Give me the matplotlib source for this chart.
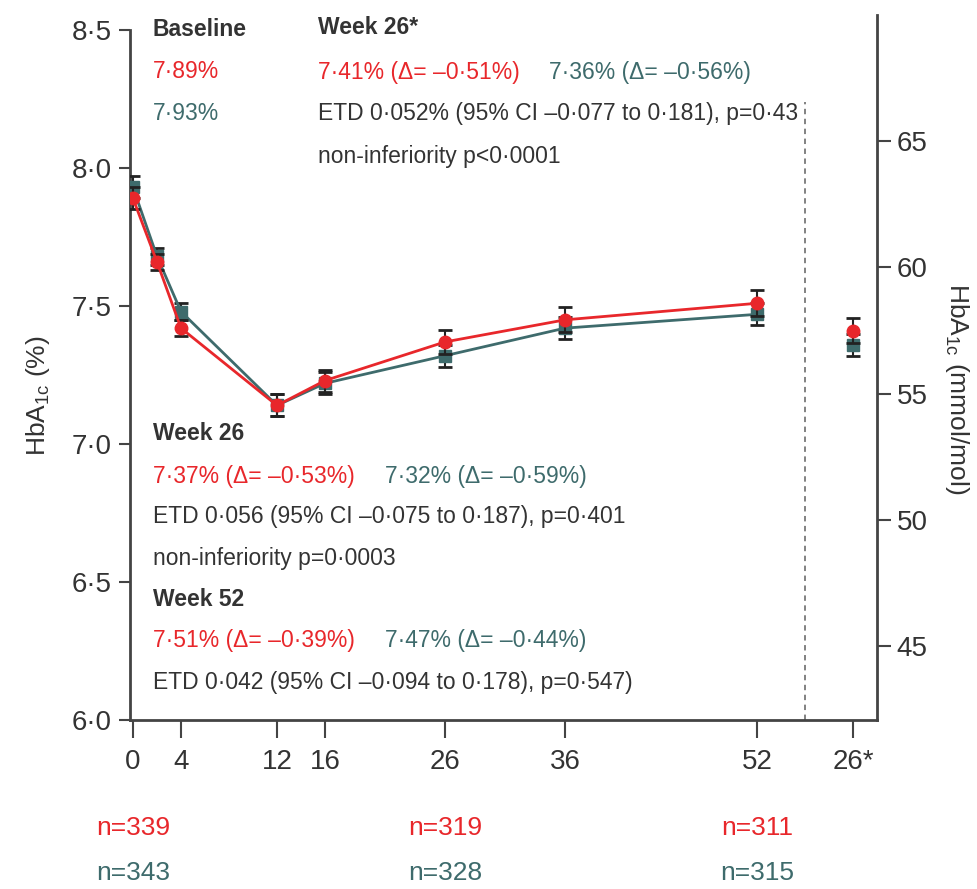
import numpy as np
import matplotlib
matplotlib.use("Agg")
import matplotlib.pyplot as plt

plt.rcParams['font.family'] = ['Liberation Sans Narrow', 'Liberation Sans', 'DejaVu Sans']
plt.rcParams['mathtext.fontset'] = 'custom'
plt.rcParams['mathtext.rm'] = 'Liberation Sans'

# data
weeks = [0, 2, 4, 12, 16, 26, 36, 52]
red_hba1c = [7.89, 7.66, 7.42, 7.14, 7.23, 7.37, 7.45, 7.51]
red_err = [0.04, 0.03, 0.03, 0.04, 0.04, 0.045, 0.045, 0.047]
teal_hba1c = [7.93, 7.68, 7.48, 7.14, 7.22, 7.32, 7.42, 7.47]
teal_err = [0.04, 0.03, 0.03, 0.04, 0.04, 0.04, 0.04, 0.04]
extra_x = 60
red_extra, red_extra_err = 7.41, 0.045
teal_extra, teal_extra_err = 7.36, 0.04

xticks = [0, 4, 12, 16, 26, 36, 52, 60]
xticklabels = ['0', '4', '12', '16', '26', '36', '52', '26*']
yticks = [6.0, 6.5, 7.0, 7.5, 8.0, 8.5]
yticklabels = ['6·0', '6·5', '7·0', '7·5', '8·0', '8·5']
mmol_ticks = [45, 50, 55, 60, 65]
n_weeks = [0, 26, 52]
n_red = ['n=339', 'n=319', 'n=311']
n_teal = ['n=343', 'n=328', 'n=315']

RED = '#e8272b'
TEAL = '#3e6b6c'
DARK = '#333333'
AX = '#444444'

def to_mmol(v):
    return 10.929 * (v - 2.15)

fig = plt.figure(figsize=(9.78, 8.89), dpi=100)
ax = fig.add_axes([0.1329, 0.19, 0.7638, 0.793])
ax.set_xlim(-0.25, 62)
ax.set_ylim(6.0, 8.554)

eb = dict(ecolor='#222222', elinewidth=1.5, capsize=5, capthick=2, ms=9)
ax.errorbar(weeks, teal_hba1c, yerr=teal_err, color=TEAL, lw=2, marker='s', zorder=3, **eb)
ax.errorbar(weeks, red_hba1c, yerr=red_err, color=RED, lw=2, marker='o', zorder=4, **eb)
ax.errorbar([extra_x], [teal_extra], yerr=[teal_extra_err], color=TEAL, marker='s', zorder=3, **eb)
ax.errorbar([extra_x], [red_extra], yerr=[red_extra_err], color=RED, marker='o', zorder=4, **eb)

ax.plot([56, 56], [6.0, 8.24], color='#777777', lw=1.3, ls=(0, (3, 2.5)))

for s in ['top', 'right']:
    ax.spines[s].set_visible(False)
ax.spines['left'].set_bounds(6.0, 8.5)
for s in ['left', 'bottom']:
    ax.spines[s].set_color(AX)
    ax.spines[s].set_linewidth(2)

ax.set_xticks(xticks)
ax.set_xticklabels(xticklabels)
ax.set_yticks(yticks)
ax.set_yticklabels(yticklabels)
ax.tick_params(axis='y', colors=AX, width=1.5, length=8, labelsize=20,
               labelcolor=DARK, pad=5)
ax.tick_params(axis='x', colors=AX, width=1.5, length=13, labelsize=20,
               labelcolor=DARK, pad=8)

ax.set_ylabel(r'HbA$_{\mathrm{1c}}$ (%)', fontsize=19, color=DARK)
ax.yaxis.set_label_coords(-0.105, 0.46)

ax2 = ax.twinx()
ax2.set_ylim(to_mmol(6.0), to_mmol(8.554))
ax2.set_yticks(mmol_ticks)
for s in ['top', 'left', 'bottom']:
    ax2.spines[s].set_visible(False)
ax2.spines['right'].set_color(AX)
ax2.spines['right'].set_linewidth(2)
ax2.tick_params(axis='y', colors=AX, width=1.5, length=10, labelsize=20,
                labelcolor=DARK, pad=4)
ax2.set_ylabel(r'HbA$_{\mathrm{1c}}$ (mmol/mol)', fontsize=19, color=DARK, rotation=-90,
               va='center')
ax2.yaxis.set_label_coords(1.107, 0.47)

fs = 16.5
def txt(x, y, s, c=DARK, w='normal'):
    fig.text(x / 978, 1 - y / 889, s, color=c, fontsize=fs, fontweight=w,
             ha='left', va='center')

txt(153, 29, 'Baseline', w='bold')
txt(153, 72, '7·89%', RED)
txt(153, 114, '7·93%', TEAL)
txt(318, 28, 'Week 26*', w='bold')
txt(318, 72, '7·41% (Δ= –0·51%)', RED)
txt(549, 72, '7·36% (Δ= –0·56%)', TEAL)
txt(318, 114, 'ETD 0·052% (95% CI –0·077 to 0·181), p=0·43')
txt(318, 156, 'non-inferiority p<0·0001')

txt(153, 434, 'Week 26', w='bold')
txt(153, 476, '7·37% (Δ= –0·53%)', RED)
txt(385, 476, '7·32% (Δ= –0·59%)', TEAL)
txt(153, 517, 'ETD 0·056 (95% CI –0·075 to 0·187), p=0·401')
txt(153, 558, 'non-inferiority p=0·0003')
txt(153, 600, 'Week 52', w='bold')
txt(153, 641, '7·51% (Δ= –0·39%)', RED)
txt(385, 641, '7·47% (Δ= –0·44%)', TEAL)
txt(153, 683, 'ETD 0·042 (95% CI –0·094 to 0·178), p=0·547)')

for wk, r, t in zip(n_weeks, n_red, n_teal):
    xf = ax.transData.transform((wk, 6.0))[0] / fig.bbox.width
    fig.text(xf, 1 - 828 / 889, r, color=RED, fontsize=19, ha='center', va='center')
    fig.text(xf, 1 - 873 / 889, t, color=TEAL, fontsize=19, ha='center', va='center')

fig.savefig('out.png', dpi=100, facecolor='white')
